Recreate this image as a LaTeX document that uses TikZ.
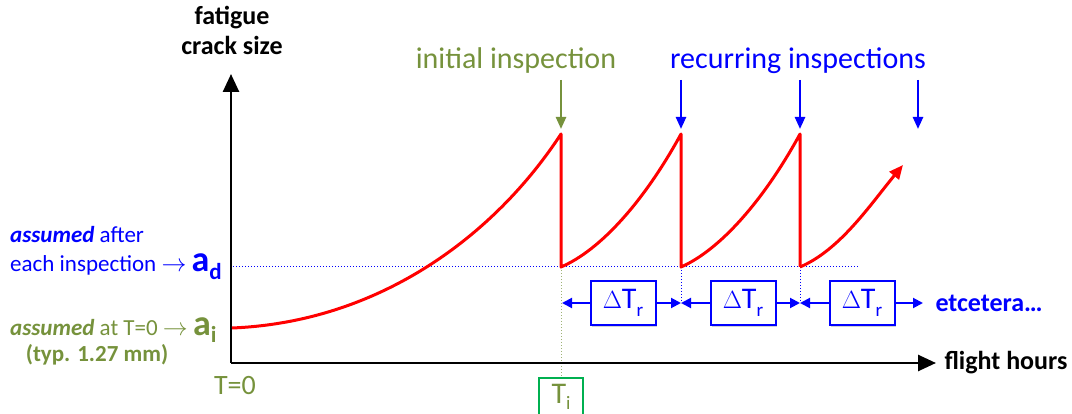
\documentclass[tikz,border=0pt]{standalone}
\usepackage{fontspec}
\setmainfont{Carlito}
\usetikzlibrary{arrows.meta,shadows}
\definecolor{olive}{RGB}{118,146,60}
\definecolor{pblue}{RGB}{0,0,255}
\definecolor{tgreen}{RGB}{0,176,80}
\definecolor{pred}{RGB}{255,0,0}
\tikzset{
  axis/.style={line width=2.6pt,-{Triangle[length=18pt,width=16pt]}},
  crack/.style={pred,line width=3pt,line join=round},
  insp/.style={line width=2.4pt,-{Triangle[length=12pt,width=10pt]}},
  dbox/.style={draw=pblue,line width=2pt,fill=white,minimum width=65pt,minimum height=44pt,inner sep=0pt,text=pblue,font=\fontsize{30}{30}\selectfont,drop shadow={shadow xshift=1.5pt,shadow yshift=-2pt,opacity=0.35,fill=gray}},
  darr/.style={pblue,line width=2pt,-{Triangle[length=10pt,width=10pt]}},
  lbl/.style={inner sep=0pt,anchor=base west},
  refl/.style={dotted,line width=1pt},
}
\newcommand{\dtr}{$\Delta$T\raisebox{-8pt}{\fontsize{19}{19}\selectfont r}}
\begin{document}
\begin{tikzpicture}[x=1pt,y=-1pt]
\useasboundingbox (0,0) rectangle (1072,414);
% coordinates
\coordinate (O) at (231,363);
\coordinate (Ytip) at (231,74);
\coordinate (Xtip) at (936,363);
\coordinate (a0) at (232,328);
\coordinate (p1) at (561,134);
\coordinate (d1) at (561,267);
\coordinate (p2) at (681,134);
\coordinate (d2) at (681,267);
\coordinate (p3) at (800,134);
\coordinate (d3) at (800,267);
\coordinate (e) at (903,165);
\coordinate (adL) at (233,267);
\coordinate (adR) at (858,267);
% reference lines
\draw[pblue,refl] (adL) -- (adR);
\coordinate (v2) at (681,303);
\coordinate (v3) at (800,303);
\draw[pblue,refl] (d2) -- (v2);
\draw[pblue,refl] (d3) -- (v3);
% Ti box
\node[draw=tgreen,line width=2pt,fill=white,minimum width=44pt,minimum height=38pt,inner sep=0pt,text=olive,font=\fontsize{30}{30}\selectfont,anchor=north] (Ti) at (561,377) {T\raisebox{-6pt}{\fontsize{19}{19}\selectfont i}};
\draw[olive!70,refl] (d1) -- (Ti.north);
% axes
\draw[axis] (O) -- (Ytip);
\draw[axis] (O) -- (Xtip);
% crack curve
\draw[crack] (a0) .. controls (380,322) and (495,235) .. (p1) -- (d1)
  .. controls (601,250) and (645,200) .. (p2) -- (d2)
  .. controls (720,250) and (764,200) .. (p3) -- (d3);
\draw[crack,-{Triangle[length=14pt,width=12pt]}] (d3) .. controls (840,250) and (870,205) .. (e);
% inspection arrows
\coordinate (i1) at (561,80); \coordinate (i1t) at (561,129);
\coordinate (i2) at (681,80); \coordinate (i2t) at (681,129);
\coordinate (i3) at (800,80); \coordinate (i3t) at (800,129);
\coordinate (i4) at (918,80); \coordinate (i4t) at (918,129);
\draw[insp,olive] (i1) -- (i1t);
\draw[insp,pblue] (i2) -- (i2t);
\draw[insp,pblue] (i3) -- (i3t);
\draw[insp,pblue] (i4) -- (i4t);
\node[olive,font=\fontsize{30}{30}\selectfont,anchor=base] (ini) at (516,69) {initial inspection};
\node[pblue,font=\fontsize{30}{30}\selectfont,anchor=base] (rec) at (798,69) {recurring inspections};
% axis labels
\node[font=\bfseries\fontsize{26}{26}\selectfont,anchor=base] (yl1) at (232,25) {fatigue};
\node[font=\bfseries\fontsize{26}{26}\selectfont,anchor=base] (yl2) at (232,55) {crack size};
\node[font=\bfseries\fontsize{26}{26}\selectfont,anchor=base west] (xl) at (941,370) {flight hours};
\node[olive,font=\fontsize{28}{28}\selectfont,anchor=base] (T0) at (235,394) {T=0};
% delta T boxes
\node[dbox] (b1) at (623,303) {\dtr};
\node[dbox] (b2) at (743,303) {\dtr};
\node[dbox] (b3) at (862,303) {\dtr};
\coordinate (t1) at (562,303);
\coordinate (t2) at (681,303);
\coordinate (t3) at (800,303);
\coordinate (t4) at (923,303);
\draw[darr] (b1.west) -- (t1);
\draw[darr] (b1.east) -- (t2);
\draw[darr] (b2.west) -- (t2);
\draw[darr] (b2.east) -- (t3);
\draw[darr] (b3.west) -- (t3);
\draw[darr] (b3.east) -- (t4);
\node[pblue,font=\bfseries\fontsize{26}{26}\selectfont,anchor=west] (etc) at (932,303) {etcetera…};
% left labels
\node[lbl,pblue,font=\fontsize{23}{23}\selectfont] (l1) at (10,243) {\textbf{\textit{assumed}} after};
\node[lbl,pblue,font=\fontsize{23}{23}\selectfont] (l2) at (10,272) {each inspection $\rightarrow$ {\bfseries\fontsize{36}{36}\selectfont a\raisebox{-8pt}{\fontsize{23}{23}\selectfont d}}};
\node[lbl,olive,font=\fontsize{23}{23}\selectfont] (l3) at (10,335) {\textbf{\textit{assumed}} at T=0 $\rightarrow$ {\bfseries\fontsize{36}{36}\selectfont a\raisebox{-8pt}{\fontsize{23}{23}\selectfont i}}};
\node[olive,font=\bfseries\fontsize{23}{23}\selectfont,anchor=base] (l4) at (97,362) {(typ. 1.27 mm)};
\end{tikzpicture}
\end{document}
